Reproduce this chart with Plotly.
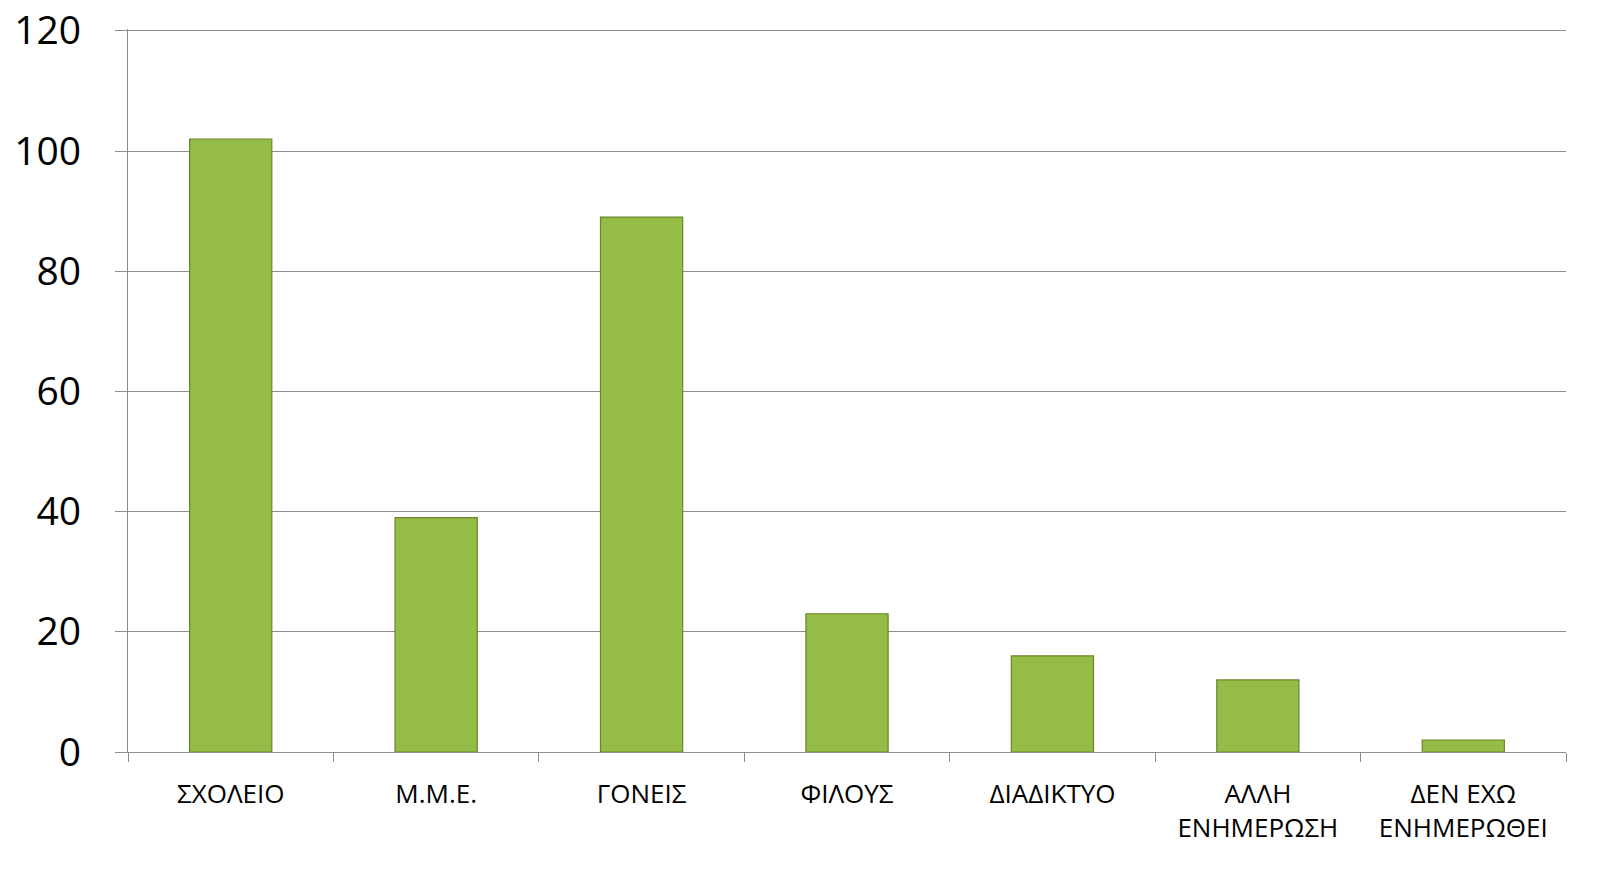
import plotly.graph_objects as go

categories = ["ΣΧΟΛΕΙΟ", "Μ.Μ.Ε.", "ΓΟΝΕΙΣ", "ΦΙΛΟΥΣ", "ΔΙΑΔΙΚΤΥΟ",
              "ΑΛΛΗ<br>ΕΝΗΜΕΡΩΣΗ", "ΔΕΝ ΕΧΩ<br>ΕΝΗΜΕΡΩΘΕΙ"]
values = [102, 39, 89, 23, 16, 12, 2]
y_ticks = [0, 20, 40, 60, 80, 100, 120]

fig = go.Figure()
fig.add_trace(go.Bar(
    x=categories, y=values, width=0.4,
    marker=dict(color="#94bc46", line=dict(color="#6a852c", width=1.2)),
))

fig.update_layout(
    width=1614, height=869,
    margin=dict(l=128, r=48, t=29, b=117, autoexpand=False),
    plot_bgcolor="white", paper_bgcolor="white",
    showlegend=False,
    font=dict(family="Open Sans", color="black"),
    bargap=0.6,
)
fig.update_yaxes(
    range=[0, 120.3], tickvals=y_ticks,
    showgrid=True, gridcolor="#8c8c8c", gridwidth=1.3,
    showline=True, linecolor="#8c8c8c", linewidth=1.3,
    ticks="outside", ticklen=12, tickcolor="#8c8c8c", tickwidth=1.3,
    tickfont=dict(size=39, family="Open Sans"),
    ticklabelstandoff=26, ticklabeloverflow="allow",
    automargin=False,
    zeroline=False,
)
fig.update_xaxes(
    showline=True, linecolor="#8c8c8c", linewidth=1.3,
    ticks="outside", ticklen=9, tickcolor="#8c8c8c", tickwidth=1.3,
    tickson="boundaries",
    tickfont=dict(size=26, family="Open Sans"),
    ticklabelstandoff=19, automargin=False,
)

fig.write_html("out.html", config={"displayModeBar": False})
with open("out.html", encoding="utf-8") as f:
    html = f.read()
html = html.replace("<body>", '<body style="margin:0;overflow:hidden">', 1)
with open("out.html", "w", encoding="utf-8") as f:
    f.write(html)
